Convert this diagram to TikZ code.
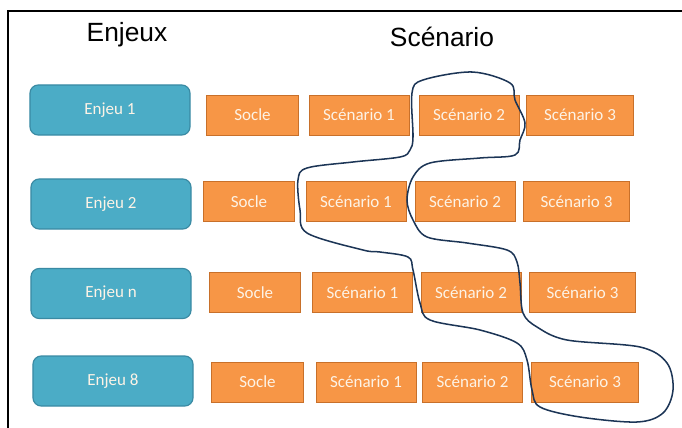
\documentclass[tikz,border=0pt]{standalone}
\usepackage{fontspec}
\setmainfont{Liberation Sans}
\newfontfamily\boxfont{Carlito}
\usepackage{tikz}
\usetikzlibrary{positioning}
\definecolor{enjeublue}{HTML}{4BACC6}
\definecolor{enjeuedge}{HTML}{3A8AA3}
\definecolor{scenorange}{HTML}{F79646}
\definecolor{scenedge}{HTML}{C8702A}
\definecolor{penblue}{HTML}{1C3556}
\definecolor{boxtext}{HTML}{FDF3E6}
\tikzset{
	enjeu/.style={
		draw=enjeuedge, fill=enjeublue, rounded corners=7pt, line width=1pt,
		minimum width=4.8cm, minimum height=1.5cm, text=boxtext,
		font=\boxfont\fontsize{14.5}{16}\selectfont
	},
	scen/.style={
		draw=scenedge, fill=scenorange, line width=0.8pt,
		minimum width=3cm, minimum height=1.2cm, text=boxtext,
		font=\boxfont\fontsize{14.5}{16}\selectfont
	},
	socle/.style={scen, minimum width=2.75cm},
	scenlast/.style={scen, minimum width=3.2cm},
	titre/.style={font=\fontsize{22.5}{26}\selectfont, anchor=base},
	pen/.style={draw=penblue, line width=1.3pt}
}

\begin{document}
\begin{tikzpicture}[x=0.03cm, y=-0.03cm]
\useasboundingbox (0,0) rectangle (682,428);
\draw[line width=1.2pt] (8,428) |- (682,11);

\node[titre] (titre-enjeux) at (127,42) {Enjeux};
\node[titre] (titre-scenario) at (442,47) {Scénario};

\node[enjeu] (enjeu-1) at (110,110) {Enjeu 1};
\node[enjeu] (enjeu-2) at (111,204) {Enjeu 2};
\node[enjeu] (enjeu-n) at (111,293.5) {Enjeu n};
\node[enjeu] (enjeu-8) at (113,381) {Enjeu 8};

\foreach \r/\y/\xa/\xb/\xc/\xd in {1/115/252.5/359/469/580, 2/201.5/249/356/465/576.5, 3/292.5/255/362.5/471/582.5, 4/382/257.5/366/472.5/585}{
	\node[socle] (socle-\r) at (\xa,\y) {Socle};
	\node[scen] (scen1-\r) at (\xb,\y) {Scénario 1};
	\node[scen] (scen2-\r) at (\xc,\y) {Scénario 2};
	\node[scenlast] (scen3-\r) at (\xd,\y) {Scénario 3};
}

% trait a main levee
\draw[pen] plot[smooth cycle, tension=0.55] coordinates {
	(423,80) (472,72) (510,83) (515,100) (525,123) (520,140) (515,155)
	(480,158) (430,163) (413,177) (407,200) (413,220) (427,237) (467,243)
	(507,250) (517,262) (520,283) (523,313) (537,327) (567,340) (640,347)
	(667,363) (673,390) (663,413) (637,422) (580,417) (540,407) (532,390)
	(527,360) (517,343) (480,330) (430,320) (420,303) (413,270) (408,257)
	(380,252) (363,250) (307,233) (300,210) (298,180) (307,168) (353,162)
	(400,157) (410,150) (413,137) (412,93)
};
\end{tikzpicture}
\end{document}
